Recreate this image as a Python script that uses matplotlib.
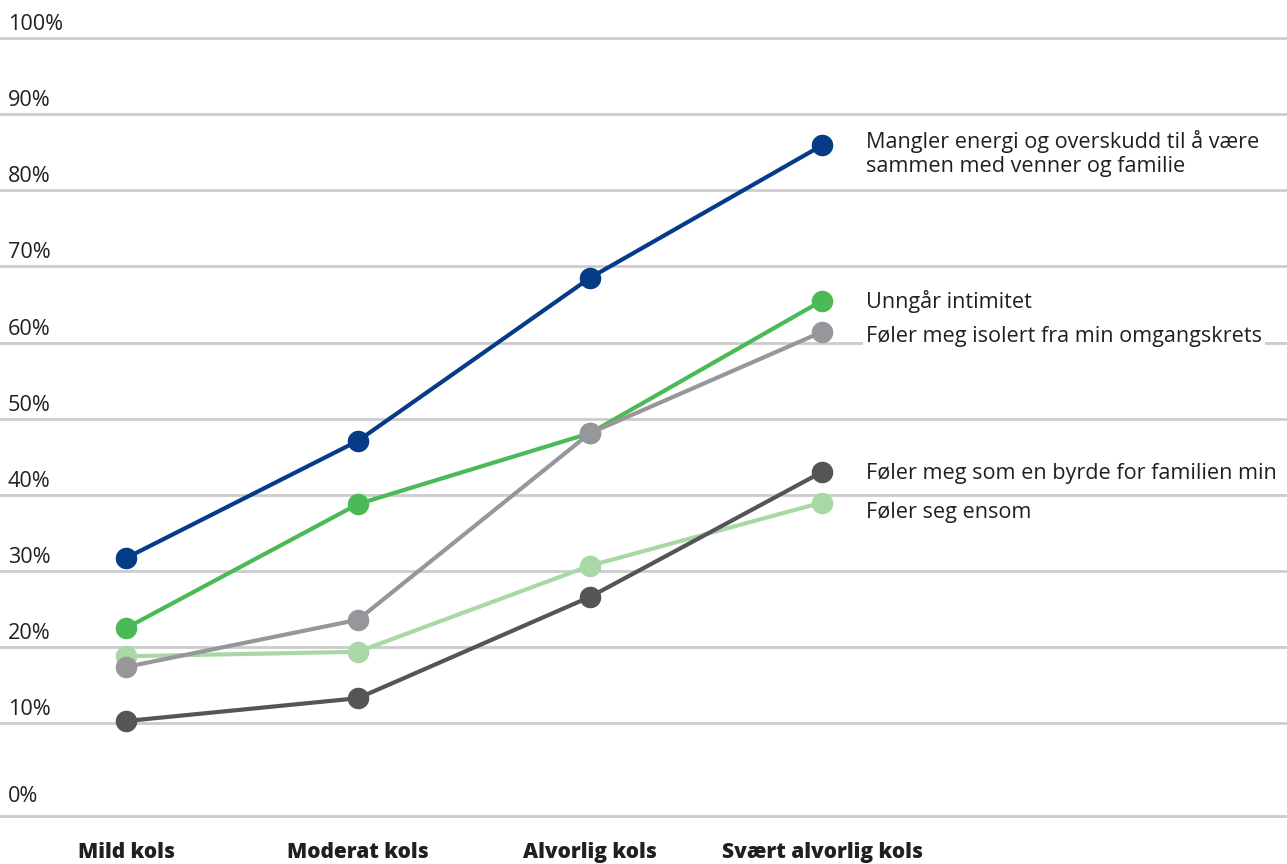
import matplotlib
matplotlib.use("Agg")
import matplotlib.pyplot as plt
from matplotlib import transforms

plt.rcParams["font.family"] = ["Open Sans", "DejaVu Sans"]

stages = ["Mild kols", "Moderat kols", "Alvorlig kols", "Svært alvorlig kols"]

energy = [31.7, 47.1, 68.5, 85.9]
intimacy = [22.5, 38.8, 48.1, 65.5]
isolated = [17.4, 23.6, 48.1, 61.4]
lonely = [18.8, 19.4, 30.7, 39.0]
burden = [10.3, 13.3, 26.6, 43.0]

series_labels = [
    "Mangler energi og overskudd til å være\nsammen med venner og familie",
    "Unngår intimitet",
    "Føler meg isolert fra min omgangskrets",
    "Føler meg som en byrde for familien min",
    "Føler seg ensom",
]

y_ticks = [10, 20, 30, 40, 50, 60, 70, 80, 90, 100]
y_min = -2.17

text_color = "#231f20"
grid_color = "#cccccc"
fs = 15.6

# drawing order: light ones first so darker lines sit on top
series = [
    (lonely, "#a8d8a5", series_labels[4], -10),
    (burden, "#555558", series_labels[3], -1),
    (intimacy, "#4cb957", series_labels[1], -1),
    (isolated, "#97979b", series_labels[2], -5),
    (energy, "#063b87", series_labels[0], -8),
]

fig = plt.figure(figsize=(12.87, 8.64), dpi=100)
ax = fig.add_axes([0, 48 / 864, 1, (816 - 38) / 864])
ax.set_xlim(-126 / 232, (1287 - 126) / 232)
ax.set_ylim(y_min, 100)

for s in ax.spines.values():
    s.set_visible(False)

ax.set_yticks([])
for v in y_ticks:
    ax.axhline(v, color=grid_color, lw=2, zorder=0, clip_on=False)
ax.axhline(y_min, color=grid_color, lw=2, zorder=0, clip_on=False)

trans = transforms.blended_transform_factory(ax.transAxes, ax.transData)
for v in y_ticks:
    off = transforms.offset_copy(trans, fig=fig, x=0, y=8, units="dots")
    ax.text(8 / 1287, v, f"{v}%", transform=off, ha="left", va="baseline",
            fontsize=fs, color=text_color)
off0 = transforms.offset_copy(trans, fig=fig, x=0, y=14, units="dots")
ax.text(8 / 1287, y_min, "0%", transform=off0, ha="left", va="baseline",
        fontsize=fs, color=text_color)

x = list(range(len(stages)))
for vals, color, label, dy in series:
    ax.plot(x, vals, color=color, lw=3, marker="o", markersize=14.5,
            solid_capstyle="round", zorder=3, clip_on=False)
    ax.annotate(label, xy=(x[-1], vals[-1]), xytext=(44, dy),
                textcoords="offset pixels", ha="left", va="center",
                fontsize=fs, color=text_color, linespacing=1.2,
                bbox=dict(boxstyle="square,pad=0.15", fc="white", ec="none"),
                zorder=4)

ax.set_xticks(x)
ax.set_xticklabels(stages, fontsize=15, fontweight="heavy", color=text_color)
ax.tick_params(axis="x", length=0, pad=19)

fig.savefig("out.png", dpi=100)
